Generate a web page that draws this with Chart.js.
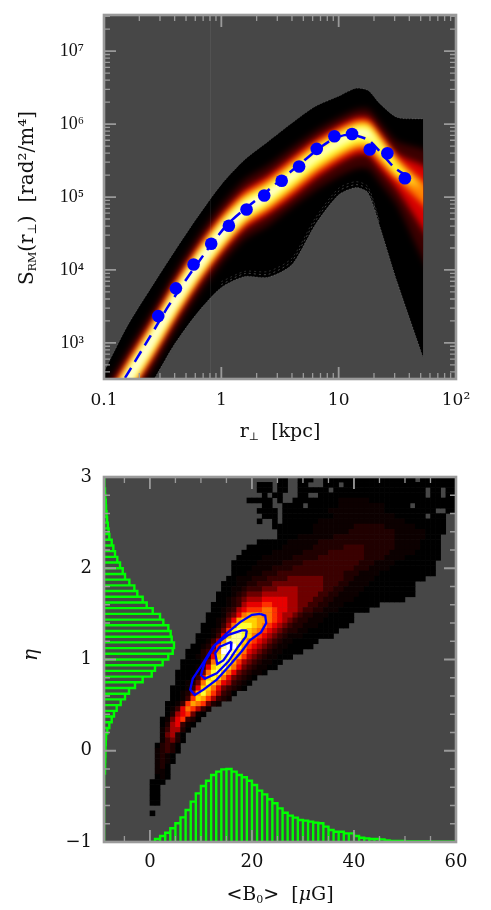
<!DOCTYPE html>
<html>
<head>
  <meta charset="UTF-8" />
  <title>S_RM and B0 - eta</title>
  <script src="https://cdn.jsdelivr.net/npm/chart.js"></script>
  <style>
    body { margin: 0; background: #fff; }
    canvas { position: absolute; left: 0; }
    #topChart { top: 0; }
    #bottomChart { top: 455px; }
  </style>
</head>
<body>
  <canvas id="topChart" width="491" height="455"></canvas>
  <canvas id="bottomChart" width="491" height="455"></canvas>

  <script>
    // top panel: structure function
    const rTicks = [0.1, 1, 10, 100];
    const rTickLabels = ["0.1", "1", "10", "10²"];
    const sTicks = [1e3, 1e4, 1e5, 1e6, 1e7];
    const sTickLabels = ["10³", "10⁴", "10⁵", "10⁶", "10⁷"];
    const decadeSteps = [2, 3, 4, 5, 6, 7, 8, 9];

    const rDots = [0.29, 0.41, 0.58, 0.82, 1.16, 1.64, 2.32, 3.27, 4.6, 6.5, 9.2, 13, 18.4, 26, 36.7];
    const sDots = [2330, 5600, 11900, 22900, 40400, 67400, 105000, 167000, 262000, 457000, 680000, 730000, 448000, 398000, 181000];

    const rModel = [0.151, 0.246, 0.35, 0.519, 0.814, 1.135, 1.62, 2.3, 3.27, 4.57, 6.5, 8.38, 11.2, 14.5, 18, 21.9, 29.4, 35, 44.4];
    const sModel = [331, 1208, 3112, 8020, 22000, 42700, 70600, 110000, 177000, 274000, 440000, 585000, 706000, 685000, 604000, 440000, 258000, 213000, 188000];

    // radii the density band was read at
    const rStations = [0.1, 0.158, 0.251, 0.398, 0.631, 1, 1.58, 2.51, 3.98, 6.31, 10, 14.1, 17.8, 22.4, 31.6, 52.5, 70];
    // outer limits of the density band, log10 S
    const logUpper = [2.6, 3.23, 3.75, 4.25, 4.73, 5.17, 5.51, 5.76, 6.01, 6.24, 6.38, 6.49, 6.46, 6.28, 6.09, 6.07];
    const logLower = [1.68, 1.95, 2.43, 2.98, 3.42, 3.76, 3.91, 3.9, 4.07, 4.62, 5.03, 5.13, 5.06, 4.6, 3.83, 2.8];
    // brightest ridge, log10 S
    const logRidge = [1.95, 2.49, 3.01, 3.56, 4.06, 4.49, 4.83, 5.03, 5.28, 5.54, 5.75, 5.87, 5.87, 5.69, 5.4, 5.1, 4.9];
    // colour level widths above / below the ridge, dex
    const darkUp = [.41, .41, .41, .41, .41, .41, .41, .41, .40, .37, .34, .33, .34, .34, .36, .55, .6];
    const darkDown = [.41, .41, .41, .41, .41, .41, .41, .42, .42, .45, .47, .48, .48, .49, .52, .96, 1.1];
    const redUp = [.27, .27, .27, .27, .27, .27, .27, .27, .27, .25, .23, .22, .22, .2, .19, .33, .38];
    const redDown = [.27, .27, .27, .27, .27, .27, .27, .27, .29, .29, .29, .29, .29, .3, .3, .55, .65];
    const orangeUp = [.21, .21, .21, .21, .21, .21, .2, .2, .2, .19, .17, .16, .16, .14, .12, .11, .11];
    const orangeDown = [.21, .21, .21, .21, .21, .21, .2, .2, .21, .21, .21, .21, .21, .2, .16, .2, .2];
    const yellowUp = [.17, .17, .17, .17, .17, .17, .16, .15, .15, .14, .13, .12, .12, .1, .08, 0, 0];
    const yellowDown = [.17, .17, .17, .17, .17, .17, .16, .15, .15, .15, .15, .15, .15, .14, .11, 0, 0];
    const whiteUp = [.12, .12, .12, .12, .12, .11, .09, .07, .06, .05, .05, .05, .05, .02, 0, 0, 0];
    const whiteDown = [.12, .12, .12, .12, .12, .11, .09, .07, .06, .05, .05, .05, .05, .02, 0, 0, 0];
    // faint contour traces inside the lower edge, from r = 1 to r = 22.4
    const traceA = [3.80, 3.95, 3.94, 4.12, 4.67, 5.08, 5.17, 5.10, 4.63];
    const traceB = [3.84, 3.98, 3.98, 4.16, 4.71, 5.12, 5.21, 5.14, 4.66];

    // bottom panel: B0 / eta posterior
    const bTicks = [0, 20, 40, 60];
    const bTickLabels = ["0", "20", "40", "60"];
    const bMinor = [-5, 5, 10, 15, 25, 30, 35, 45, 50, 55];
    const etaTicks = [-1, 0, 1, 2, 3];
    const etaTickLabels = ["−1", "0", "1", "2", "3"];
    const etaMinor = [-0.8, -0.6, -0.4, -0.2, 0.2, 0.4, 0.6, 0.8, 1.2, 1.4, 1.6, 1.8, 2.2, 2.4, 2.6, 2.8];

    // one string per row of the map from eta = 3 downward, one hex digit per 1 uG cell, spaces only group digits
    const heatStart = [34, 30, 30, 31, 28, 31, 30, 31, 30, 33, 34, 32, 30, 28, 27, 26, 25, 25, 25, 24, 23, 23, 22, 22, 21, 21, 20, 20, 19, 19, 18, 18, 17, 16, 16, 15, 15, 14, 14, 14, 13, 13, 13, 12, 12, 12, 11, 11, 11, 11, 11, 10, 10, 10, 10, 10, 10, 10, 9, 9, 9, 9, 9, 0, 9];
    const heatRows = [
      "00..000.. 000000000000000000.0000000",
      "000.00.. 00...000.0 000000000000000000000",
      "000.00.. 000000.000 000000000000000 .00.0 0",
      "0.00... 00..000000 000000000000000 .00.00",
      "00000.0.. 000000000111111 00000000000000000",
      "00.. 0000. 00000 01111 11111 00000 .0000 0000",
      "0000. 00000 00001 11111 11111 00000 00000 ..00",
      "000. 00000 00000 11111 11111 11000 000.0 00",
      "0.. 0.000 00001 11111 11111 11111 10000 0000",
      "00000 00011 11111 12222 22111 11100 0000",
      "00000 00111 11112 22222 22211 11110 000",
      "..000 01111 11122 22222 22222 11111 1000",
      "00000 01111 11222 22222 22222 22111 11000 0",
      "00000 00111 11122 22223 33322 22221 11110 000",
      "00000 01111 11222 22333 33332 22221 11110 0000",
      "00000 11111 12222 23333 33333 22221 11100 00000",
      "00000 11111 22223 33333 33333 22211 11000 00000",
      "00001 11122 22333 33333 33332 22111 10000 00000",
      "00011 12223 33333 33333 33222 11110 00000 00000",
      "00111 22233 33444 44443 33322 11110 00000 0000",
      "00011 22333 44444 44444 33322 11110 00000 000",
      "00112 33344 45555 44444 33221 11100 00000 000",
      "00012 34445 55555 54444 33221 11100 00000 0000",
      "00123 45556 66665 54443 32211 11000 00000 00",
      "00012 35666 77666 55443 32211 10000 000",
      "00123 56777 88766 55433 22111 000000",
      "00013 46899 98876 55432 21110 0000",
      "00124 69aaa 99876 54322 11100 0000",
      "00013 58bbb a9876 54322 11100 0000",
      "00124 7bcba 98765 43221 10000 00",
      "00013 6accb a8765 43211 10000 00",
      "00135 9ccca 87654 32110 0000",
      "001247cddb97654321100000",
      "00023 59ddca865432110000",
      "001236acca97543211000",
      "0000248bcb9754321100",
      "000136abca864321100",
      "0000248bca86432110",
      "000136aba8643210",
      "001248ba8653210",
      "000136aa8643210",
      "001259b975320",
      "00137a975321",
      "00137987421",
      "013687531",
      "02567410",
      "01467320",
      "0256310",
      "135520",
      "14520",
      "13420",
      "02320",
      "12320",
      "1210",
      "1210",
      "120",
      "110",
      "010",
      "000",
      "00",
      "00",
      "00",
      "00",
      "",
      "0"
    ];
    const heatColors = ["#000000", "#0c0000", "#200000", "#3a0000", "#6c0000", "#a80000", "#e80000", "#ff3000", "#ff7000", "#ffa000", "#ffd000", "#ffff30", "#ffff90", "#ffffff"];

    const contourOuterB = [21.6, 22.6, 22.8, 21.8, 19.6, 18, 15.4, 13.1, 10.5, 8.8, 7.9, 8.4, 10.2, 12.4, 15.1, 17.7, 20, 21.6];
    const contourOuterEta = [1.5, 1.48, 1.4, 1.3, 1.21, 1.09, .92, .78, .67, .61, .67, .79, .94, 1.14, 1.29, 1.41, 1.49, 1.5];
    const contourMidB = [19, 18.8, 17.3, 15.4, 13.1, 10.8, 10, 10.8, 12.8, 15.4, 18, 19];
    const contourMidEta = [1.32, 1.25, 1.14, .98, .85, .79, .83, .98, 1.16, 1.27, 1.32, 1.32];
    const contourInnerB = [16, 15.9, 14.4, 13.2, 12.8, 13.7, 16];
    const contourInnerEta = [1.195, 1.11, .99, .95, 1.07, 1.14, 1.195];

    // histogram of B0, 1 uG bins from 0, top of each bar in eta units
    const bHistTops = [-1, -.967, -.934, -.898, -.85, -.795, -.73, -.649, -.558, -.467, -.386, -.328, -.266, -.229, -.204, -.2, -.229, -.266, -.291, -.328, -.375, -.437, -.478, -.532, -.576, -.631, -.679, -.711, -.733, -.759, -.766, -.777, -.788, -.795, -.832, -.868, -.887, -.887, -.905, -.905, -.934, -.953, -.96, -.967, -.967, -.971, -.982, -.989, -.989, -.989, -.993, -.993, -.993, -.993, -.993, -.997, -.997, -.997, -.997, -.997];
    // histogram of eta, bins of 0.0625 from eta = 3 down, end of each bar in B0 units
    const etaHistEnds = [-8.9, -8.85, -8.8, -8.75, -8.65, -8.6, -8.5, -8.4, -8.25, -8.1,
      -7.96, -7.49, -7.17, -6.84, -6.39, -5.86, -5.33, -4.88, -4.03, -3.05, -2.47, -1.42, -.63, .55, 1.98, 2.63, 3.61, 4.07, 4.27, 4.72,
      4.47, 3.6, 2.5, 1, .35, -1.42, -2.92, -4.1, -4.88, -5.73, -6.51, -7.04, -7.49, -7.96, -8.35, -8.6,
      -8.65, -8.7, -8.72, -8.75, -8.78, -8.8, -8.85, -8.9, -8.92, -8.95, -8.97, -8.98, -9, -9, -9, -9, -9, -9];

    const GREY = "#9a9a9a";
    const PANEL = "#474747";
    const SERIF = "'DejaVu Serif', serif";

    function drawRuns(ctx, runs, x, y, angle) {
      ctx.save();
      ctx.translate(x, y);
      ctx.rotate(angle);
      ctx.fillStyle = "#111";
      ctx.textAlign = "left";
      ctx.textBaseline = "alphabetic";
      let total = 0;
      runs.forEach(r => {
        ctx.font = (r[3] || "") + " " + r[1] + "px " + SERIF;
        total += ctx.measureText(r[0]).width;
      });
      let pos = -total / 2;
      runs.forEach(r => {
        ctx.font = (r[3] || "") + " " + r[1] + "px " + SERIF;
        ctx.fillText(r[0], pos, r[2]);
        pos += ctx.measureText(r[0]).width;
      });
      ctx.restore();
    }

    function markTicks(chart, xVals, yVals, len) {
      const ctx = chart.ctx;
      const a = chart.chartArea;
      const xs = chart.scales.x;
      const ys = chart.scales.y;
      ctx.beginPath();
      xVals.forEach(v => {
        const p = xs.getPixelForValue(v);
        ctx.moveTo(p, a.top);
        ctx.lineTo(p, a.top + len);
        ctx.moveTo(p, a.bottom);
        ctx.lineTo(p, a.bottom - len);
      });
      yVals.forEach(v => {
        const p = ys.getPixelForValue(v);
        ctx.moveTo(a.left, p);
        ctx.lineTo(a.left + len, p);
        ctx.moveTo(a.right, p);
        ctx.lineTo(a.right - len, p);
      });
      ctx.stroke();
    }

    // grey panel, pgplot style frame with inward ticks, axis titles
    const panelPlugin = {
      id: "panel",
      beforeDatasetsDraw(chart) {
        const a = chart.chartArea;
        chart.ctx.fillStyle = PANEL;
        chart.ctx.fillRect(a.left, a.top, a.right - a.left, a.bottom - a.top);
      },
      afterDatasetsDraw(chart, args, opts) {
        const ctx = chart.ctx;
        const a = chart.chartArea;
        ctx.save();
        ctx.strokeStyle = GREY;
        ctx.lineWidth = 1.3;
        markTicks(chart, opts.xMinor, opts.yMinor, 6);
        ctx.lineWidth = 1.8;
        markTicks(chart, opts.xMajor, opts.yMajor, 12);
        ctx.lineWidth = 2.6;
        ctx.strokeRect(a.left, a.top, a.right - a.left, a.bottom - a.top);
        ctx.restore();
        opts.titles.forEach(t => drawRuns(ctx, t.runs, t.x, t.y, t.angle));
      }
    };

    // soften the flat colour levels of the density band, cut at its outer radius
    const softBandPlugin = {
      id: "softBand",
      afterDatasetDraw(chart, args) {
        const ds = chart.data.datasets[args.index];
        const ctx = chart.ctx;
        if (ds.softStart) {
          const a = chart.chartArea;
          const edge = chart.scales.x.getPixelForValue(rStations[15]);
          ctx.save();
          ctx.beginPath();
          ctx.rect(a.left, a.top, edge - a.left, a.bottom - a.top);
          ctx.clip();
          ctx.filter = "blur(3px)";
        }
        if (ds.softEnd) ctx.restore();
      }
    };

    function xy(xs, ys) {
      return xs.map((x, k) => ({ x: x, y: ys[k] }));
    }

    function bandDatasets(up, down, color, order, flags) {
      const top = rStations.slice(0, up.length).map((r, k) => ({ x: r, y: Math.pow(10, up[k]) }));
      const bot = rStations.slice(0, down.length).map((r, k) => ({ x: r, y: Math.pow(10, down[k]) }));
      const base = { pointRadius: 0, borderWidth: 0, borderColor: "transparent", tension: 0.25, order: order };
      return [
        Object.assign({ data: top, fill: "+1", backgroundColor: color }, base, flags),
        Object.assign({ data: bot, fill: false }, base)
      ];
    }

    function level(up, down) {
      return [logRidge.map((v, k) => v + up[k]), logRidge.map((v, k) => v - down[k])];
    }

    const topDatasets = [
      { data: xy(rDots, sDots), showLine: false, pointRadius: 6.3, pointBackgroundColor: "#0000ff", pointBorderWidth: 0, order: 1 },
      { data: xy(rModel, sModel), borderColor: "#0000ff", borderWidth: 2.5, borderDash: [12, 7], pointRadius: 0, tension: 0.2, fill: false, order: 2 },
      { data: xy(rStations.slice(5, 14), traceA.map(v => Math.pow(10, v))), borderColor: "rgba(190,190,190,0.45)", borderWidth: 0.8, borderDash: [2, 3], pointRadius: 0, fill: false, tension: 0.25, order: 3 },
      { data: xy(rStations.slice(5, 14), traceB.map(v => Math.pow(10, v))), borderColor: "rgba(190,190,190,0.3)", borderWidth: 0.8, borderDash: [2, 3], pointRadius: 0, fill: false, tension: 0.25, order: 3 },
      { data: xy(rStations.slice(0, 16), logLower.map(v => Math.pow(10, v))), borderColor: "rgba(190,190,190,0.4)", borderWidth: 0.8, borderDash: [1, 2], pointRadius: 0, fill: false, tension: 0.25, order: 4 },
      { data: xy(rStations.slice(0, 16), logUpper.map(v => Math.pow(10, v))), borderColor: "rgba(190,190,190,0.3)", borderWidth: 0.8, borderDash: [1, 2], pointRadius: 0, fill: false, tension: 0.25, order: 4 },
      { data: [{ x: 0.81, y: 320 }, { x: 0.81, y: 3.1e7 }], borderColor: "rgba(200,200,200,0.1)", borderWidth: 1, pointRadius: 0, fill: false, order: 5 }
    ].concat(
      bandDatasets(...level(whiteUp, whiteDown), "#ffffe0", 10, { softEnd: true }),
      bandDatasets(...level(yellowUp, yellowDown), "#ffff30", 11),
      bandDatasets(...level(orangeUp, orangeDown), "#ff8000", 12),
      bandDatasets(...level(redUp, redDown), "#d80000", 13),
      bandDatasets(...level(darkUp, darkDown), "#3c0000", 14),
      bandDatasets(logUpper, logLower, "#000000", 15, { softStart: true })
    );

    const noGrid = { display: false, drawTicks: false };
    const noBorder = { display: false };

    function fixWidth(s, w) {
      s.width = w;
      s.paddingTop = 0;
      s.paddingBottom = 0;
    }

    function fixHeight(s, h) {
      s.height = h;
      s.paddingLeft = 0;
      s.paddingRight = 0;
    }

    new Chart(document.getElementById("topChart"), {
      type: "line",
      data: { datasets: topDatasets },
      plugins: [panelPlugin, softBandPlugin],
      options: {
        responsive: false,
        animation: false,
        events: [],
        layout: { padding: { top: 15, right: 35, left: 0, bottom: 0 } },
        plugins: {
          legend: { display: false },
          tooltip: { enabled: false },
          panel: {
            xMajor: rTicks,
            yMajor: sTicks,
            xMinor: [0.1, 1, 10].flatMap(d => decadeSteps.map(m => d * m)),
            yMinor: [400, 500, 600, 700, 800, 900].concat([1e3, 1e4, 1e5, 1e6].flatMap(d => decadeSteps.map(m => d * m)), [2e7, 3e7]),
            titles: [
              { runs: [["r", 19, 0], ["⊥", 11, 3], ["  [kpc]", 19, 0]], x: 280, y: 437, angle: 0 },
              { runs: [["S", 20, 0], ["RM", 11, 3], ["(r", 20, 0], ["⊥", 12, 3], [")  [rad²/m⁴]", 20, 0]], x: 33, y: 198, angle: -Math.PI / 2 }
            ]
          }
        },
        scales: {
          x: {
            type: "logarithmic", min: 0.1, max: 100, offset: false,
            grid: noGrid, border: noBorder,
            afterBuildTicks(s) { s.ticks = rTicks.map(v => ({ value: v })); },
            afterFit(s) { fixHeight(s, 76); },
            ticks: {
              autoSkip: false, maxRotation: 0, padding: 11, color: "#111",
              font: { family: SERIF, size: 17 },
              callback(v, i) { return rTickLabels[i]; }
            }
          },
          y: {
            type: "logarithmic", min: 320, max: 3.13e7,
            grid: noGrid, border: noBorder,
            afterBuildTicks(s) { s.ticks = sTicks.map(v => ({ value: v })); },
            afterFit(s) { fixWidth(s, 104); },
            ticks: {
              autoSkip: false, padding: 20, color: "#111",
              font: { family: "'Liberation Serif', serif", size: 18 },
              callback(v, i) { return sTickLabels[i]; }
            }
          }
        }
      }
    });

    // bottom panel
    const heatPoints = [];
    const heatFill = [];
    heatRows.forEach((row, j) => {
      const cells = row.replace(/ /g, "");
      for (let c = 0; c < cells.length; c++) {
        if (cells[c] === ".") continue;
        heatPoints.push({ x: -9 + heatStart[j] + c + 0.5, y: 3 - (j + 0.5) * 4 / 70 });
        heatFill.push(heatColors[parseInt(cells[c], 16)]);
      }
    });

    // comb outlines of the two histograms: out along each bin edge, across, and back
    const bHistPath = bHistTops.flatMap((v, k) => [
      { x: k, y: -1 }, { x: k, y: v }, { x: k + 1, y: v }, { x: k + 1, y: -1 }
    ]);
    const etaHistPath = etaHistEnds.flatMap((v, k) => [
      { x: -9, y: 3 - k * 0.0625 }, { x: v, y: 3 - k * 0.0625 }, { x: v, y: 3 - (k + 1) * 0.0625 }, { x: -9, y: 3 - (k + 1) * 0.0625 }
    ]);

    const contourStyle = { type: "line", borderColor: "#0000ff", borderWidth: 2.3, pointRadius: 0, fill: false, tension: 0 };
    const histStyle = { type: "line", borderColor: "#00ff00", borderWidth: 2.4, pointRadius: 0, fill: false, tension: 0, borderJoinStyle: "miter" };

    const bottomDatasets = [
      Object.assign({ data: xy(contourInnerB, contourInnerEta), order: 1 }, contourStyle),
      Object.assign({ data: xy(contourMidB, contourMidEta), order: 1 }, contourStyle),
      Object.assign({ data: xy(contourOuterB, contourOuterEta), order: 1 }, contourStyle),
      Object.assign({ data: bHistPath, order: 2 }, histStyle),
      Object.assign({ data: etaHistPath, order: 2 }, histStyle),
      {
        type: "scatter", data: heatPoints, showLine: false, order: 3,
        pointStyle: "rect", pointRadius: 3.95, pointBorderWidth: 0,
        pointBackgroundColor: heatFill
      }
    ];

    new Chart(document.getElementById("bottomChart"), {
      type: "scatter",
      data: { datasets: bottomDatasets },
      plugins: [panelPlugin],
      options: {
        responsive: false,
        animation: false,
        events: [],
        layout: { padding: { top: 22, right: 35, left: 0, bottom: 0 } },
        plugins: {
          legend: { display: false },
          tooltip: { enabled: false },
          panel: {
            xMajor: bTicks,
            yMajor: etaTicks,
            xMinor: bMinor,
            yMinor: etaMinor,
            titles: [
              { runs: [["<B", 19, 0], ["0", 11, 3], [">  [", 19, 0], ["μ", 19, 0, "italic"], ["G]", 19, 0]], x: 280, y: 445, angle: 0 },
              { runs: [["η", 20, 0, "italic"]], x: 37, y: 200, angle: -Math.PI / 2 }
            ]
          }
        },
        scales: {
          x: {
            type: "linear", min: -9, max: 60, offset: false, beginAtZero: false,
            grid: noGrid, border: noBorder,
            afterBuildTicks(s) { s.ticks = bTicks.map(v => ({ value: v })); },
            afterFit(s) { fixHeight(s, 68); },
            ticks: {
              autoSkip: false, maxRotation: 0, padding: 10, color: "#111",
              font: { family: SERIF, size: 18 },
              callback(v, i) { return bTickLabels[i]; }
            }
          },
          y: {
            type: "linear", min: -1, max: 3, offset: false, beginAtZero: false,
            grid: noGrid, border: noBorder,
            afterBuildTicks(s) { s.ticks = etaTicks.map(v => ({ value: v })); },
            afterFit(s) { fixWidth(s, 104); },
            ticks: {
              autoSkip: false, padding: 12, color: "#111",
              font: { family: SERIF, size: 18 },
              callback(v, i) { return etaTickLabels[i]; }
            }
          }
        }
      }
    });
  </script>
</body>
</html>
